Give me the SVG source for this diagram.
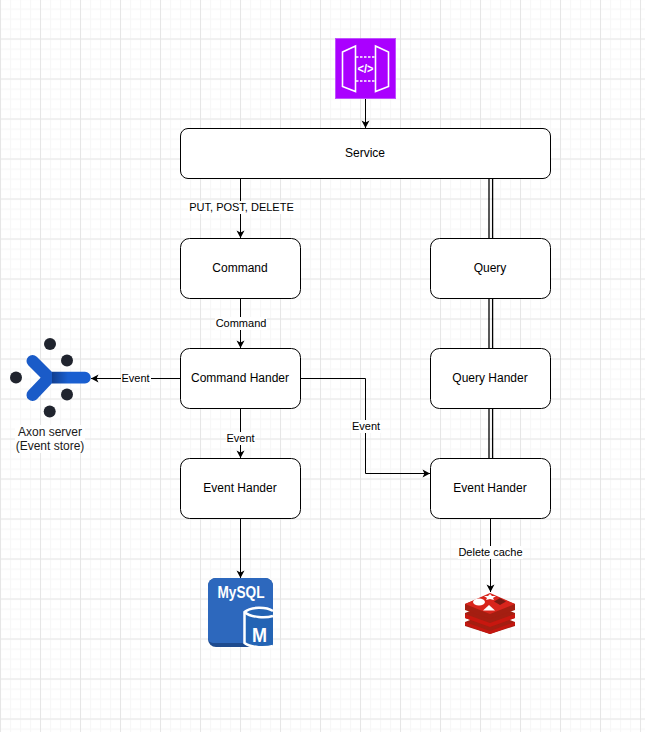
<svg xmlns="http://www.w3.org/2000/svg" width="645" height="732" viewBox="0 0 645 732">
<style>
.box{fill:#fff;stroke:#000;stroke-width:1}
.t{font-family:"Liberation Sans",Arial,sans-serif;font-size:12px;fill:#000;text-anchor:middle}
.l{font-family:"Liberation Sans",Arial,sans-serif;font-size:11px;fill:#000;text-anchor:middle}
.a{font-family:"Liberation Sans",Arial,sans-serif;font-size:12px;fill:#1a1a1a;text-anchor:middle}
.c{fill:none;stroke:#000;stroke-width:1;marker-end:url(#arrow)}
.bg{fill:#fff}
</style>
<defs>
<marker id="arrow" markerUnits="userSpaceOnUse" markerWidth="10" markerHeight="10" viewBox="-8 -5 10 10" refX="0" refY="0" orient="auto" overflow="visible">
<path d="M0,0 L-7.5,-4 L-5.6,0 L-7.5,4 Z" fill="#000"/>
</marker>
<linearGradient id="axonbar" gradientUnits="userSpaceOnUse" x1="52" y1="0" x2="68" y2="0">
<stop offset="0" stop-color="#123f8f"/><stop offset="1" stop-color="#1a5fd0"/>
</linearGradient>
<pattern id="minor" width="10" height="10" patternUnits="userSpaceOnUse" x="0" y="-1.5">
<path d="M0.5,0V10M0,0.5H10" stroke="#f7f7f7" stroke-width="1.4" fill="none"/>
</pattern>
<pattern id="major" width="40" height="40" patternUnits="userSpaceOnUse" x="0" y="-1.5">
<path d="M0.5,0V40M0,0.5H40" stroke="#e6e6e6" stroke-width="1" fill="none"/>
</pattern>
</defs>
<rect width="645" height="732" fill="#fff"/>
<rect width="645" height="732" fill="url(#minor)"/>
<rect width="645" height="732" fill="url(#major)"/>

<g id="connectors">
<path class="c" d="M365.5,98.5V128"/>
<path class="c" d="M240.5,178.5V238"/>
<path class="c" d="M240.5,298.5V348"/>
<path class="c" d="M240.5,408.5V458"/>
<path class="c" d="M240.5,518.5V578"/>
<path class="c" d="M490.5,518.5V592"/>
<path class="c" d="M180.5,378.5H91"/>
<path class="c" d="M300.5,378.5H365.5V473.5H430"/>
<g id="double-links" fill="none" stroke="#000">
<path stroke-width="1.300" d="M489,178.500V238.500M489,298.500V348.500M489,408.500V458.500"/>
<path stroke-width="1.300" d="M492.600,178.500V238.500M492.600,298.500V348.500M492.600,408.500V458.500"/>
</g>
<g id="edge-labels">
<rect class="bg" x="188" y="201" width="107" height="13"/>
<text class="l" x="241.500" y="211">PUT, POST, DELETE</text>
<rect class="bg" x="215" y="317" width="52" height="13"/>
<text class="l" x="241" y="327">Command</text>
<rect class="bg" x="226" y="432" width="29" height="13"/>
<text class="l" x="240.500" y="442">Event</text>
<rect class="bg" x="121" y="372" width="30" height="13"/>
<text class="l" x="135.500" y="382">Event</text>
<rect class="bg" x="351" y="420" width="30" height="13"/>
<text class="l" x="366" y="430">Event</text>
<rect class="bg" x="458" y="546" width="65" height="13"/>
<text class="l" x="490.500" y="556">Delete cache</text>
</g>
</g>

<g id="api-gateway">
<rect x="335.500" y="38.500" width="60" height="60" fill="#aa00ff" stroke="#c050ff" stroke-width="1"/>
<path d="M342.500,52L355.500,46V91.500L342.500,86.500ZM375.500,46L388.500,52V86.500L375.500,91.500Z" fill="none" stroke="#fff" stroke-width="1.600"/>
<path d="M356,57H375M356,81H375" fill="none" stroke="#fff" stroke-width="1.600" stroke-dasharray="2.500 1.500"/>
<text x="365.500" y="72.500" font-family="'Liberation Sans',sans-serif" font-size="12" font-weight="bold" fill="#fff" text-anchor="middle" textLength="16" lengthAdjust="spacingAndGlyphs">&lt;/&gt;</text>
</g>

<g id="service"><rect class="box" x="180.500" y="128.500" width="370" height="50" rx="7.500"/><text class="t" x="365" y="157">Service</text></g>
<g id="command"><rect class="box" x="180.500" y="238.500" width="120" height="60" rx="9"/><text class="t" x="240" y="272">Command</text></g>
<g id="command-handler"><rect class="box" x="180.500" y="348.500" width="120" height="60" rx="9"/><text class="t" x="240" y="382">Command Hander</text></g>
<g id="event-handler-left"><rect class="box" x="180.500" y="458.500" width="120" height="60" rx="9"/><text class="t" x="240" y="492">Event Hander</text></g>
<g id="query"><rect class="box" x="430.500" y="238.500" width="120" height="60" rx="9"/><text class="t" x="490" y="272">Query</text></g>
<g id="query-handler"><rect class="box" x="430.500" y="348.500" width="120" height="60" rx="9"/><text class="t" x="490" y="382">Query Hander</text></g>
<g id="event-handler-right"><rect class="box" x="430.500" y="458.500" width="120" height="60" rx="9"/><text class="t" x="490" y="492">Event Hander</text></g>

<g id="axon-server">
<g fill="#20242e">
<circle cx="50" cy="344" r="6"/><circle cx="67" cy="360.500" r="6"/><circle cx="16" cy="377.500" r="6"/><circle cx="67" cy="394.500" r="6"/><circle cx="49.700" cy="411.500" r="6"/>
</g>
<path d="M32.500,361L49,377.600L32.500,395" stroke="#1a5bc8" stroke-width="12" stroke-linecap="round" stroke-linejoin="round" fill="none"/>
<path d="M52,371.800H85a5.800,5.800 0 0 1 0,11.600H52Z" fill="url(#axonbar)"/>
<rect x="15" y="425" width="70" height="28" class="bg"/>
<text class="a" x="50" y="436">Axon server</text>
<text class="a" x="50" y="450">(Event store)</text>
</g>

<g id="mysql">
<rect x="208" y="578" width="65" height="69" rx="8" fill="#1d4a8e"/>
<path d="M208,586a8,8 0 0 1 8,-8h49a8,8 0 0 1 8,8v52a5,5 0 0 1 -5,5h-55a5,5 0 0 1 -5,-5Z" fill="#2d68bd"/>
<text x="241" y="598" font-family="'Liberation Sans',sans-serif" font-size="16.500" font-weight="bold" fill="#fff" text-anchor="middle" textLength="47" lengthAdjust="spacingAndGlyphs">MySQL</text>
<path d="M273,611C266,606.500 251,606.500 244.500,612V643C251,648 266,648 273,646" fill="#2464b4" stroke="#fff" stroke-width="2.500"/>
<path d="M244.500,612C251,618 266,618 273,616" fill="none" stroke="#fff" stroke-width="2.500"/>
<text x="259.500" y="641.700" font-family="'Liberation Sans',sans-serif" font-size="21" font-weight="bold" fill="#fff" text-anchor="middle" textLength="15" lengthAdjust="spacingAndGlyphs">M</text>
</g>

<g id="redis">
<path d="M465,622L490,612L515,622V626L490,634L465,626Z" fill="#a41e11"/>
<path d="M465,622L490,631L515,622V625L490,634L465,625Z" fill="#c4160f"/>
<path d="M465,613L490,603L515,613V618L490,627L465,618Z" fill="#a41e11"/>
<path d="M465,614L490,623L515,614V618L490,627L465,618Z" fill="#c8170f"/>
<path d="M465,604L490,594L515,604V610L490,619L465,610Z" fill="#a41e11"/>
<path d="M465,604L490,593L515,604L490,614Z" fill="#d8251c"/>
<ellipse cx="479" cy="602" rx="6" ry="3.500" fill="#fff"/>
<path d="M490,594L492,596L496,596L493,598L494,600L490,599L486,600L487,598L484,596L488,596Z" fill="#fff"/>
<path d="M489,605L495,610.500L483,610.500Z" fill="#fff"/>
<path d="M500,598L506,601.500L500,605L494,601.500Z" fill="#7a1a12"/>
</g>
</svg>
